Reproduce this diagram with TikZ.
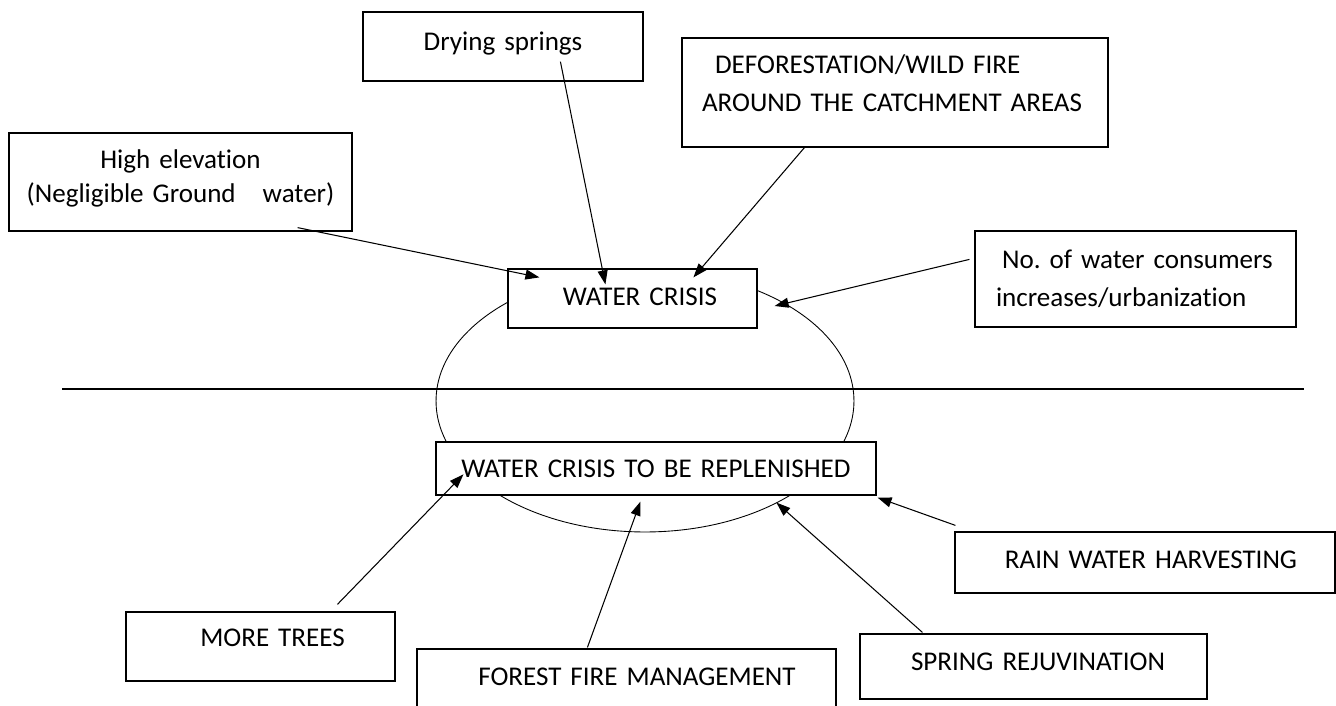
\documentclass[tikz,border=0pt]{standalone}
\usepackage{fontspec}
\setmainfont{Carlito}[Ligatures=NoCommon]
\frenchspacing
\usetikzlibrary{arrows.meta}
\tikzset{
  box/.style={draw, line width=0.7pt, fill=white, inner xsep=0pt, inner ysep=0pt,
    text height=0.734cm, font=\fontsize{15.4}{21.6}\selectfont},
  arr/.style={line width=0.6pt, -{Triangle[length=0.28cm,width=0.2cm]}}
}
\begin{document}
\begin{tikzpicture}[x=0.02cm, y=-0.02cm]
	\clip (0,0) rectangle (1336,706);
	% loop and dividing line
	\draw[line width=0.5pt] (645,401) ellipse [x radius=4.18cm, y radius=2.62cm];
	\coordinate (lineL) at (62,389);
	\coordinate (lineR) at (1304,389);
	\draw[line width=0.75pt] (lineL) -- (lineR);
	% causes
	\node[box, text width=5.6cm, align=center, text height=0.774cm, text depth=0.606cm] (dry) at (503,46.5) {Drying springs};
	\node[box, text width=6.86cm, align=center, text height=0.714cm, text depth=1.246cm, font=\fontsize{15.4}{19.4}\selectfont] (high) at (180.5,182) {High elevation\\(Negligible Ground\ \ \ water)};
	\node[box, text width=8.52cm, align=left, text height=0.714cm, text depth=1.466cm] (defo) at (895,92.5) {\hspace*{0.66cm}DEFORESTATION/WILD FIRE\\\hspace*{0.4cm}AROUND THE CATCHMENT AREAS};
	\node[box, text width=6.42cm, align=left, text height=0.754cm, text depth=1.166cm] (cons) at (1135.5,279) {\hspace*{0.54cm}No. of water consumers\\\hspace*{0.42cm}increases/urbanization};
	\node[box, text width=4.98cm, align=center, text depth=0.446cm] (crisis) at (632.5,298.5) {\hspace*{0.3cm}WATER CRISIS};
	% remedies
	\node[box, text width=8.8cm, align=center, text height=0.714cm, text depth=0.346cm] (repl) at (656,468.5) {WATER CRISIS TO BE REPLENISHED};
	\node[box, text width=5.38cm, align=center, text height=0.694cm, text depth=0.686cm] (trees) at (260.5,646.5) {\hspace*{0.48cm}MORE TREES};
	\node[box, text width=8.38cm, align=center, text depth=0.566cm] (forest) at (626.5,681.5) {\hspace*{0.42cm}FOREST FIRE MANAGEMENT};
	\node[box, text width=6.94cm, align=center, text depth=0.566cm] (spring) at (1033.5,666.5) {\hspace*{0.18cm}SPRING REJUVINATION};
	\node[box, text width=7.6cm, align=center, text depth=0.486cm] (rain) at (1145,562.5) {\hspace*{0.24cm}RAIN WATER HARVESTING};
	% arrows
	\draw[arr] ([shift={(-55,-4)}]high.south east) -- ([shift={(32,9)}]crisis.north west);
	\draw[arr] ([shift={(198,-20)}]dry.south west) -- ([shift={(98,16)}]crisis.north west);
	\draw[arr] ([shift={(123,0)}]defo.south west) -- ([shift={(186,9)}]crisis.north west);
	\draw[arr] ([shift={(-5,29)}]cons.north west) -- ([shift={(17,7.5)}]crisis.east);
	\draw[arr] ([shift={(212,-7)}]trees.north west) -- ([shift={(28,33)}]repl.north west);
	\draw[arr] ([shift={(171,-1)}]forest.north west) -- ([shift={(205,6)}]repl.south west);
	\draw[arr] ([shift={(63,-1)}]spring.north west) -- ([shift={(341,7)}]repl.south west);
	\draw[arr] ([shift={(1,-6)}]rain.north west) -- ([shift={(1,2)}]repl.south east);
\end{tikzpicture}
\end{document}
